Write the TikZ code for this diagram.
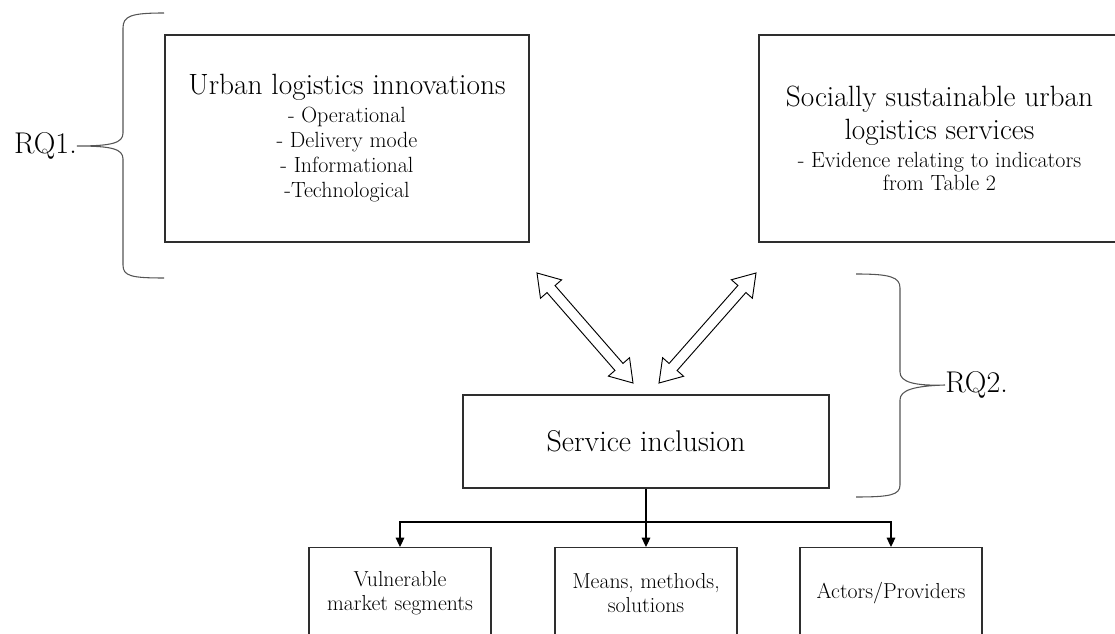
\documentclass[tikz,border=0pt]{standalone}
\usetikzlibrary{arrows.meta,calc}
\definecolor{lc}{HTML}{2E2E2E}
\definecolor{bc}{HTML}{555555}
\setlength{\lineskiplimit}{-30pt}
\tikzset{
  box/.style={draw=lc,line width=0.9pt,align=center,inner sep=0pt},
  brace/.style={draw=bc,line width=0.8pt},
  conn/.style={draw=black,line width=0.8pt,-{Triangle[length=7pt,width=6.5pt]}},
  hollow/.style={draw=black,line width=0.7pt,fill=white,line join=miter},
  small/.style={font=\fontsize{16.5}{18.75}\selectfont},
  tiny/.style={font=\fontsize{16.3}{18}\selectfont},
  rq/.style={inner sep=0pt,font=\fontsize{22.5}{26}\selectfont}
}
\newcommand\ttl[1]{{\fontsize{22}{25}\selectfont #1}}
\newcommand\hollowdarrow[2]{%
  \coordinate (#1h) at ($(#1)!16pt!(#2)$);
  \coordinate (#2h) at ($(#2)!16pt!(#1)$);
  \path[hollow] (#1) -- ($(#1h)!10.5pt!90:(#1)$) -- ($(#1h)!4pt!90:(#1)$)
    -- ($(#2h)!4pt!-90:(#2)$) -- ($(#2h)!10.5pt!-90:(#2)$) -- (#2)
    -- ($(#2h)!10.5pt!90:(#2)$) -- ($(#2h)!4pt!90:(#2)$)
    -- ($(#1h)!4pt!-90:(#1)$) -- ($(#1h)!10.5pt!-90:(#1)$) -- cycle;}
\begin{document}
\begin{tikzpicture}[x=0.75pt,y=-0.75pt]
\useasboundingbox (0,0) rectangle (1115,634);
% top boxes
\node[box,minimum width=273pt,minimum height=155.25pt,small] (b1) at (347,138.5)
  {\ttl{Urban logistics innovations}\\[2.25pt]
   - Operational\\ - Delivery mode\\ - Informational\\ -Technological};
\node[box,minimum width=270.75pt,minimum height=155.25pt,small] (b2) at (939.5,138.5)
  {\ttl{Socially sustainable urban}\\[6pt]
   \ttl{logistics services}\\[2pt]
   - Evidence relating to indicators\\[-1pt] from Table 2};
% middle box
\node[box,minimum width=274.5pt,minimum height=69.75pt,font=\fontsize{22.5}{26}\selectfont] (si) at (646,441.5) {Service inclusion};
% bottom boxes
\node[box,anchor=north,minimum width=136.5pt,minimum height=68pt,tiny] (va) at (400,547)
  {Vulnerable\\ market segments};
\node[box,anchor=north,minimum width=136.5pt,minimum height=68pt,tiny] (mm) at (646,547)
  {Means, methods,\\ solutions};
\node[box,anchor=north,minimum width=136.5pt,minimum height=68pt,tiny] (ap) at (891,547)
  {Actors/Providers};
% RQ labels
\node[rq,anchor=east] (rq1) at (77,146) {RQ1.};
\node[rq,anchor=west] (rq2) at (945,385) {RQ2.};
% braces
\draw[brace] (164,13) .. controls (131,13) and (123,16) .. (123,28) -- (123,133)
  .. controls (123,143) and (112,146) .. (rq1.east)
  .. controls (112,146) and (123,149) .. (123,159) -- (123,265)
  .. controls (123,276) and (131,278) .. (164,278);
\draw[brace] (856,274) .. controls (890,274) and (900,277) .. (900,288) -- (900,372)
  .. controls (900,382) and (914,386) .. (rq2.west)
  .. controls (914,386) and (900,390) .. (900,400) -- (900,485)
  .. controls (900,495) and (890,497) .. (856,497);
% double arrows
\coordinate (a1s) at (537,273);
\coordinate (a1e) at (633,383);
\coordinate (a2s) at (756,273);
\coordinate (a2e) at (659,383);
\hollowdarrow{a1s}{a1e}
\hollowdarrow{a2s}{a2e}
% bottom connectors
\coordinate (j) at (646,522);
\draw[conn] (si.south) -- (mm.north);
\draw[conn] (j) -| (va.north);
\draw[conn] (j) -| (ap.north);
\end{tikzpicture}
\end{document}
